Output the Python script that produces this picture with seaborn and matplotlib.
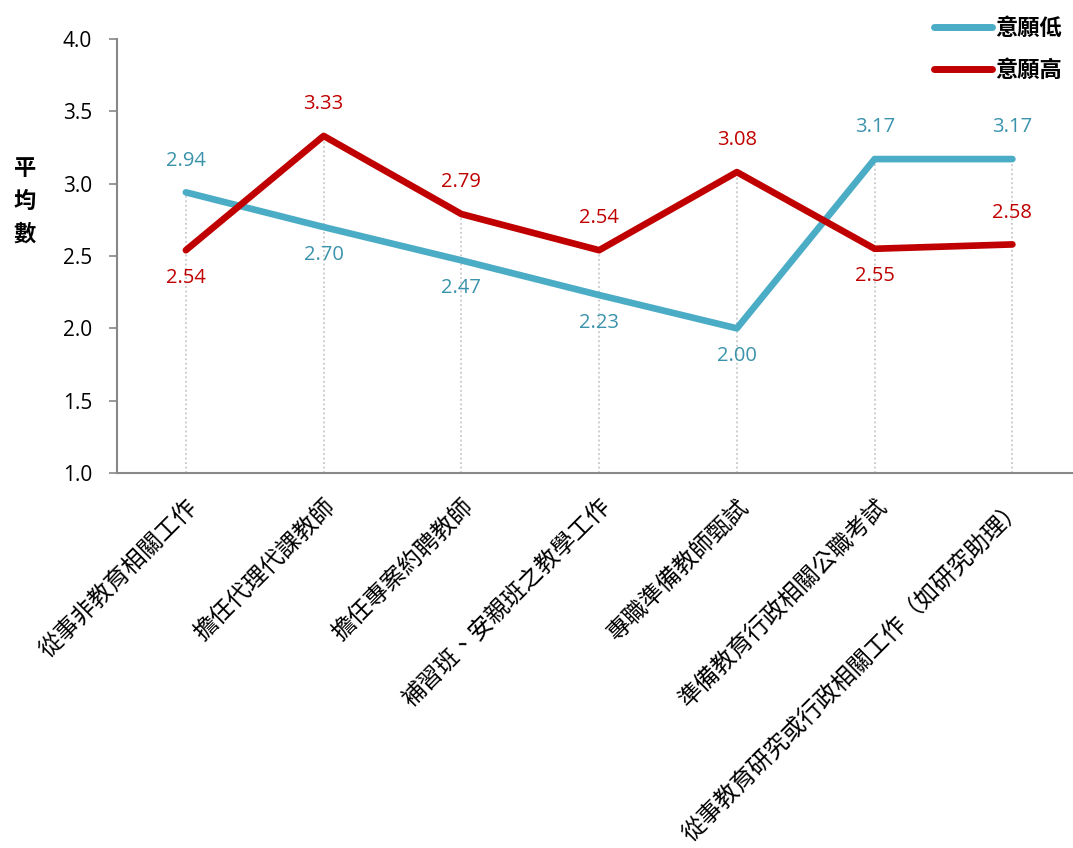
import matplotlib
matplotlib.use("Agg")
import matplotlib.pyplot as plt
import seaborn as sns
import pandas as pd
import numpy as np
from matplotlib.lines import Line2D

categories = ["從事非教育相關工作", "擔任代理代課教師", "擔任專案約聘教師",
              "補習班、安親班之教學工作", "專職準備教師甄試", "準備教育行政相關公職考試",
              "從事教育研究或行政相關工作（如研究助理）"]
low = [2.94, 2.70, 2.47, 2.23, 2.00, 3.17, 3.17]
high = [2.54, 3.33, 2.79, 2.54, 3.08, 2.55, 2.58]
series_names = ["意願低", "意願高"]
yticks = [1.0, 1.5, 2.0, 2.5, 3.0, 3.5, 4.0]

sns.set_theme(style="white")
plt.rcParams['font.family'] = ['Noto Sans CJK TC', 'DejaVu Sans']
plt.rcParams['text.color'] = 'black'

df = pd.DataFrame({
    "x": list(range(len(categories))) * 2,
    "val": low + high,
    "series": [series_names[0]] * len(low) + [series_names[1]] * len(high),
})

fig = plt.figure(figsize=(10.73, 8.48), dpi=100)
ax = fig.add_axes([117/1073, 1 - 473/848, 1 - 117/1073, (473 - 39)/848])

line_colors = {"意願低": "#4BACC6", "意願高": "#C00000"}
label_colors = {"意願低": "#3A93AB", "意願高": "#C00000"}

xs = np.arange(len(categories))
ax.vlines(xs, 1.0, np.maximum(low, high), colors="#C8C8C8", linestyles=(0, (1, 1.5)),
          linewidth=1.3, zorder=1)

sns.lineplot(data=df, x="x", y="val", hue="series", palette=line_colors, linewidth=4.8,
             ax=ax, legend=False, zorder=3, solid_capstyle="round", sort=False)

num_font = ["Open Sans", "DejaVu Sans"]
low_pos = ["above", "below", "below", "below", "below", "above", "above"]
high_pos = ["below", "above", "above", "above", "above", "below", "above"]
for name, vals, pos in [("意願低", low, low_pos), ("意願高", high, high_pos)]:
    for i, (v, p) in enumerate(zip(vals, pos)):
        off = 0.22 if p == "above" else -0.19
        ax.text(i, v + off, f"{v:.2f}", ha="center", va="center", fontsize=14.5,
                color=label_colors[name], zorder=4, family=num_font)

ax.set_ylim(1.0, 4.0)
ax.set_xlim(-0.5, 6.44)
ax.set_yticks(yticks)
ax.set_yticklabels([f"{t:.1f}" for t in yticks], fontsize=15, family=num_font)
ax.set_xticks(xs)
ax.set_xticklabels(categories, rotation=45, ha="right", rotation_mode="anchor", fontsize=17,
                   fontweight="light")
ax.tick_params(axis="x", length=0, pad=16, labelcolor="black")
ax.tick_params(axis="y", length=6, width=1.2, color="#888888", left=True, pad=12, labelcolor="black")
ax.set_xlabel("")
ax.set_ylabel("")
for s in ["top", "right"]:
    ax.spines[s].set_visible(False)
for s in ["left", "bottom"]:
    ax.spines[s].set_color("#888888")
    ax.spines[s].set_linewidth(1.5)

fig.text(25/1073, 1 - 201/848, "平\n均\n數", ha="center", va="center", fontsize=16,
         fontweight="bold", linespacing=1.55, color="black")

handles = [Line2D([0], [0], color=line_colors[n], linewidth=5, solid_capstyle="round") for n in series_names]
fig.legend(handles, series_names, loc="upper right", bbox_to_anchor=(1.008, 1.004),
           frameon=False, handlelength=2.6, handletextpad=0.15, labelspacing=0.85,
           prop={"size": 16, "weight": "bold"}, labelcolor="black")

fig.savefig("out.png", dpi=100)
